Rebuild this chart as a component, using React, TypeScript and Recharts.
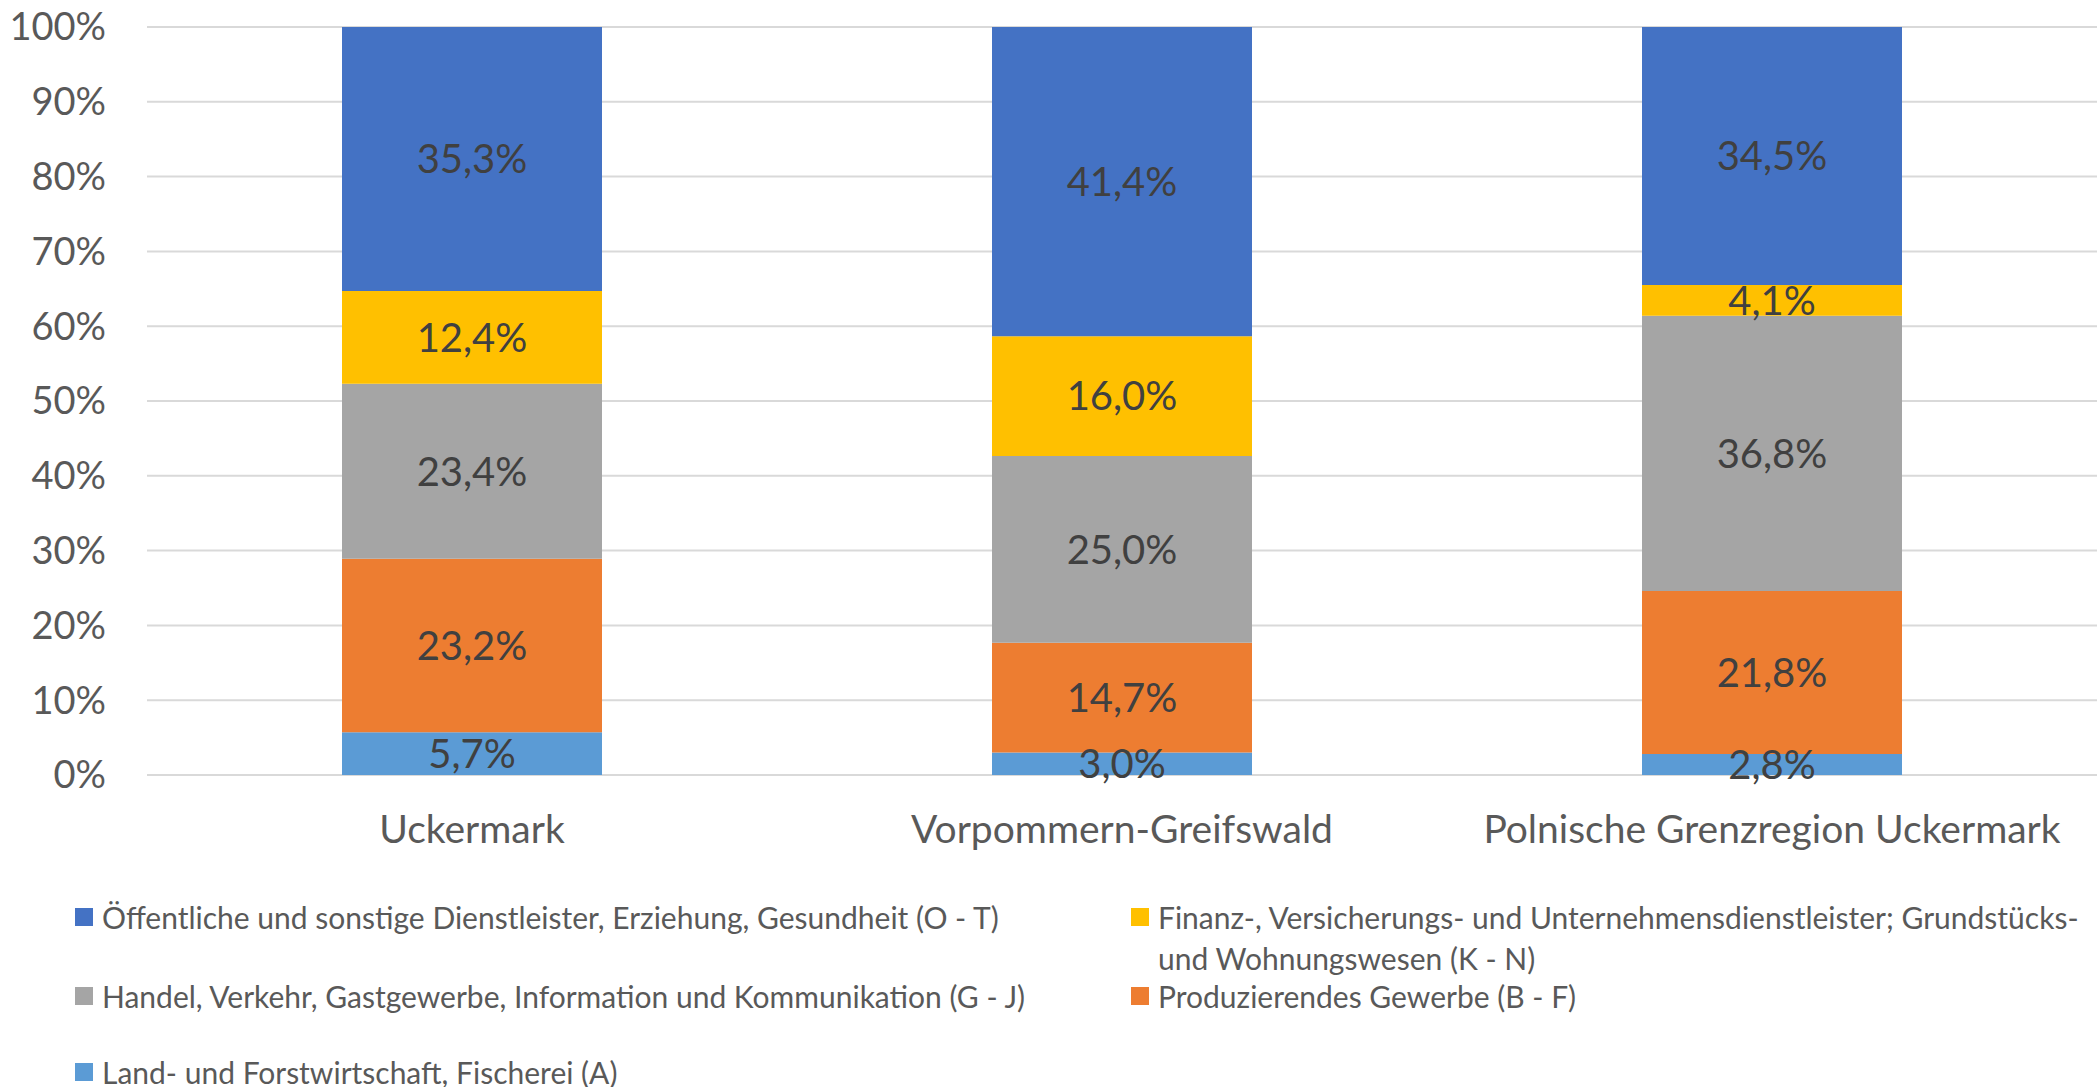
import * as React from "react";
import {
  Bar,
  BarChart,
  CartesianGrid,
  LabelList,
  Legend,
  XAxis,
  YAxis,
} from "recharts";

const REGIONS = [
  "Uckermark",
  "Vorpommern-Greifswald",
  "Polnische Grenzregion Uckermark",
];

// shares per region, in percent (bottom to top of the stack)
const LAND = [5.7, 3.0, 2.8];
const PROD = [23.2, 14.7, 21.8];
const HANDEL = [23.4, 25.0, 36.8];
const FINANZ = [12.4, 16.0, 4.1];
const OEFF = [35.3, 41.4, 34.5];

const Y_TICKS = [0, 10, 20, 30, 40, 50, 60, 70, 80, 90, 100];

const SERIES = [
  { key: "land", name: "Land- und Forstwirtschaft, Fischerei (A)", color: "#5B9BD5", values: LAND },
  { key: "prod", name: "Produzierendes Gewerbe (B - F)", color: "#ED7D31", values: PROD },
  { key: "handel", name: "Handel, Verkehr, Gastgewerbe, Information und Kommunikation (G - J)", color: "#A5A5A5", values: HANDEL },
  { key: "finanz", name: "Finanz-, Versicherungs- und Unternehmensdienstleister; Grundstücks- und Wohnungswesen (K - N)", color: "#FFC000", values: FINANZ },
  { key: "oeff", name: "Öffentliche und sonstige Dienstleister, Erziehung, Gesundheit (O - T)", color: "#4472C4", values: OEFF },
];

// order in which the legend lists the series (two columns, row by row)
const LEGEND_ORDER = ["oeff", "finanz", "handel", "prod", "land"];

const data = REGIONS.map((region, i) => {
  const row: Record<string, string | number> = { region };
  SERIES.forEach((s) => {
    row[s.key] = s.values[i];
  });
  return row;
});

const fmt = (v: number) => `${v.toFixed(1).replace(".", ",")}%`;

const ROW_Y = [62, 141, 217];
const COL_X = [75, 1131];
const LINE_H = 41;

const LegendContent = () => (
  <div style={{ position: "relative", width: 2100, height: 232 }}>
    {LEGEND_ORDER.map((key, i) => {
      const s = SERIES.find((x) => x.key === key)!;
      const col = i % 2;
      const row = Math.floor(i / 2);
      const top = ROW_Y[row] - LINE_H / 2;
      // wrap the long label the same way the original does
      const text = s.name.replace("Grundstücks- ", "Grundstücks-\n");
      return (
        <div
          key={key}
          style={{
            position: "absolute",
            left: COL_X[col],
            top,
            display: "flex",
            alignItems: "flex-start",
          }}
        >
          <span
            style={{
              display: "inline-block",
              width: 18,
              height: 18,
              marginTop: (LINE_H - 18) / 2,
              marginRight: 9,
              background: s.color,
              flexShrink: 0,
            }}
          />
          <span
            style={{
              fontSize: 30,
              lineHeight: `${LINE_H}px`,
              color: "#595959",
              whiteSpace: "pre",
            }}
          >
            {text}
          </span>
        </div>
      );
    })}
  </div>
);

export default function App() {
  return (
    <div
      style={{
        position: "absolute",
        left: 0,
        top: 0,
        width: 2100,
        height: 1087,
        background: "#fff",
        fontFamily: "Lato, sans-serif",
      }}
    >
      <BarChart
        width={2100}
        height={1087}
        data={data}
        stackOffset="expand"
        barCategoryGap="30%"
        margin={{ top: 27, right: 3, left: 0, bottom: 0 }}
      >
        <CartesianGrid vertical={false} stroke="#D9D9D9" strokeWidth={2} />
        <XAxis
          dataKey="region"
          axisLine={false}
          tickLine={false}
          tickSize={0}
          tickMargin={40}
          height={80}
          tick={{ fill: "#595959", fontSize: 39 }}
        />
        <YAxis
          domain={[0, 1]}
          ticks={Y_TICKS.map((t) => t / 100)}
          tickFormatter={(v: number) => `${Math.round(v * 100)}%`}
          axisLine={false}
          tickLine={false}
          tickSize={0}
          tickMargin={41}
          width={147}
          tick={{ fill: "#595959", fontSize: 38 }}
        />
        <Legend
          verticalAlign="bottom"
          align="left"
          content={<LegendContent />}
          wrapperStyle={{ left: 0, width: 2100 }}
        />
        {SERIES.map((s) => (
          <Bar
            key={s.key}
            dataKey={s.key}
            name={s.name}
            stackId="a"
            fill={s.color}
            isAnimationActive={false}
          >
            <LabelList
              dataKey={s.key}
              position="center"
              formatter={(v: number) => fmt(v)}
              fill="#404040"
              fontSize={40}
            />
          </Bar>
        ))}
      </BarChart>
    </div>
  );
}
